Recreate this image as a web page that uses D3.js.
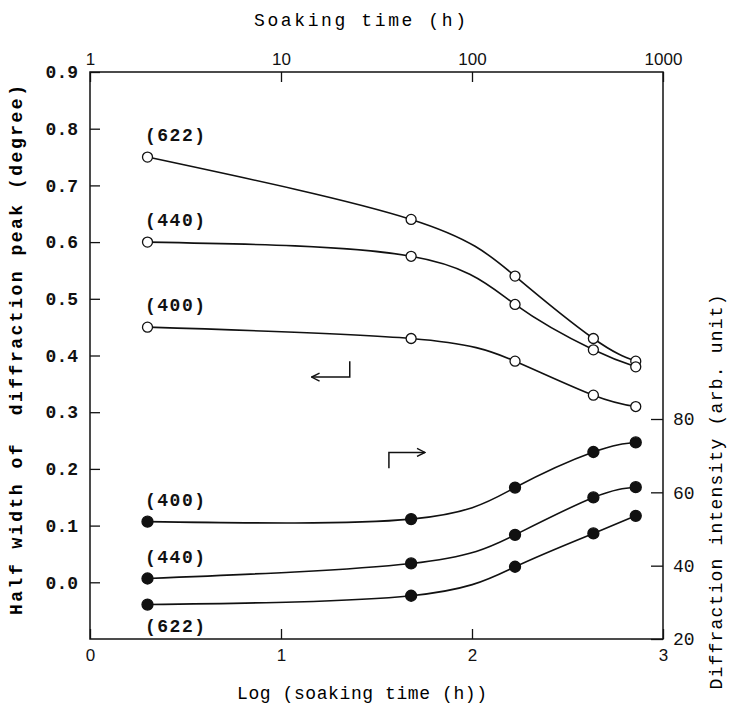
<!DOCTYPE html>
<html>
<head>
<meta charset="utf-8">
<script src="https://cdn.jsdelivr.net/npm/d3@7"></script>
<style>
  body { margin: 0; background: #fff; }
  svg { display: block; }
  .mono { font-family: "Liberation Mono", "DejaVu Sans Mono", monospace; }
  .sans { font-family: "Liberation Sans", "DejaVu Sans", sans-serif; }
</style>
</head>
<body>
<svg id="chart" width="729" height="708"></svg>
<script>
// soaking time (h) of each measurement
const hours = [2, 48, 168, 432, 720];

// half width of diffraction peak (degree), open circles, left axis
const halfWidth = [
    { name: "(622)", values: [0.75, 0.64, 0.54, 0.43, 0.39] },
    { name: "(440)", values: [0.60, 0.575, 0.49, 0.41, 0.38] },
    { name: "(400)", values: [0.45, 0.43, 0.39, 0.33, 0.31] }
];

// diffraction intensity (arb. unit), filled circles, right axis
const intensity = [
    { name: "(400)", values: [52.0, 52.7, 61.3, 71.0, 73.6] },
    { name: "(440)", values: [36.5, 40.6, 48.4, 58.6, 61.4] },
    { name: "(622)", values: [29.4, 31.8, 39.7, 48.8, 53.6] }
];

const logTicks = [0, 1, 2, 3];
const timeTicks = [1, 10, 100, 1000];
const leftTicks = [0.0, 0.1, 0.2, 0.3, 0.4, 0.5, 0.6, 0.7, 0.8, 0.9];
const rightTicks = [20, 40, 60, 80];

const plotLeft = 90, plotRight = 663, plotTop = 72, plotBottom = 639;

const svg = d3.select("#chart");

const x = d3.scaleLinear().domain([0, 3]).range([plotLeft, plotRight]);
const xTime = d3.scaleLog().domain([1, 1000]).range([plotLeft, plotRight]);
const yL = d3.scaleLinear().domain([-0.1, 0.9]).range([plotBottom, plotTop]);
const yR = d3.scaleLinear().domain([20, 80]).range([plotBottom, 419]);

//frame
svg.append("rect")
    .attr("x", plotLeft)
    .attr("y", plotTop)
    .attr("width", plotRight - plotLeft)
    .attr("height", plotBottom - plotTop)
    .attr("fill", "none")
    .attr("stroke", "#111")
    .attr("stroke-width", 1.5);

//axes
let styleAxis = function(g, cls, size){
    g.select(".domain").remove();
    g.selectAll("line").attr("stroke", "#111").attr("stroke-width", 1.3);
    g.selectAll("text")
        .attr("class", cls)
        .attr("font-size", size)
        .attr("fill", "#111");
};

svg.append("g")
    .attr("transform", `translate(${plotLeft},0)`)
    .call(d3.axisLeft(yL).tickValues(leftTicks).tickFormat(d3.format(".1f"))
        .tickSizeInner(-10).tickSizeOuter(0).tickPadding(12))
    .call(g => styleAxis(g, "mono", 18))
    .selectAll("text").attr("font-weight", "bold");

svg.append("g")
    .attr("transform", `translate(0,${plotBottom})`)
    .call(d3.axisBottom(x).tickValues(logTicks).tickFormat(d3.format("d"))
        .tickSizeInner(-10).tickSizeOuter(0).tickPadding(10))
    .call(g => styleAxis(g, "sans", 17));

svg.append("g")
    .attr("transform", `translate(0,${plotTop})`)
    .call(d3.axisTop(xTime).tickValues(timeTicks).tickFormat(d3.format("d"))
        .tickSizeInner(-10).tickSizeOuter(0).tickPadding(7))
    .call(g => styleAxis(g, "sans", 17));

svg.append("g")
    .attr("transform", `translate(${plotRight},0)`)
    .call(d3.axisRight(yR).tickValues(rightTicks).tickFormat(d3.format("d"))
        .tickSizeInner(-12).tickSizeOuter(0).tickPadding(10))
    .call(g => styleAxis(g, "mono", 18));

//axis titles
svg.append("text")
    .attr("class", "mono")
    .attr("transform", `translate(22,350) rotate(-90)`)
    .attr("text-anchor", "middle")
    .attr("font-size", 18)
    .attr("font-weight", "bold")
    .attr("textLength", 530)
    .attr("lengthAdjust", "spacing")
    .attr("xml:space", "preserve")
    .text("Half width of  diffraction peak (degree)");

svg.append("text")
    .attr("class", "mono")
    .attr("transform", `translate(722,492) rotate(-90)`)
    .attr("text-anchor", "middle")
    .attr("font-size", 18)
    .attr("textLength", 395)
    .attr("lengthAdjust", "spacing")
    .text("Diffraction intensity (arb. unit)");

svg.append("text")
    .attr("class", "mono")
    .attr("x", 360)
    .attr("y", 26)
    .attr("text-anchor", "middle")
    .attr("font-size", 18)
    .attr("textLength", 212)
    .attr("lengthAdjust", "spacing")
    .text("Soaking time (h)");

svg.append("text")
    .attr("class", "mono")
    .attr("x", 362)
    .attr("y", 699)
    .attr("text-anchor", "middle")
    .attr("font-size", 18)
    .attr("textLength", 250)
    .attr("lengthAdjust", "spacing")
    .text("Log (soaking time (h))");

//curves
let drawSeries = function(series, yScale, filled, labelBelow){
    let line = d3.line()
        .x((d, i) => x(Math.log10(hours[i])))
        .y(d => yScale(d))
        .curve(d3.curveNatural);

    let g = svg.selectAll(null)
        .data(series)
        .enter().append("g");

    g.append("path")
        .attr("d", d => line(d.values))
        .attr("fill", "none")
        .attr("stroke", "#111")
        .attr("stroke-width", 1.6);

    g.selectAll("circle")
        .data(d => d.values)
        .enter().append("circle")
        .attr("cx", (d, i) => x(Math.log10(hours[i])))
        .attr("cy", d => yScale(d))
        .attr("r", filled ? 5.5 : 5)
        .attr("fill", filled ? "#111" : "#fff")
        .attr("stroke", "#111")
        .attr("stroke-width", 1.3);

    g.append("text")
        .attr("class", "mono")
        .attr("x", 145)
        .attr("y", d => yScale(d.values[0]) + (labelBelow(d) ? 27 : -16))
        .attr("font-size", 18)
        .attr("font-weight", "bold")
        .attr("letter-spacing", 1.5)
        .attr("fill", "#111")
        .text(d => d.name);
};

drawSeries(halfWidth, yL, false, d => false);
drawSeries(intensity, yR, true, d => d.name === "(622)");

//arrows pointing to the axis each family belongs to
svg.append("defs").append("marker")
    .attr("id", "head")
    .attr("viewBox", "0 0 10 10")
    .attr("refX", 9)
    .attr("refY", 5)
    .attr("markerWidth", 10)
    .attr("markerHeight", 10)
    .attr("markerUnits", "userSpaceOnUse")
    .attr("orient", "auto")
    .append("path")
    .attr("d", "M1,1 L9,5 L1,9")
    .attr("fill", "none")
    .attr("stroke", "#111")
    .attr("stroke-width", 1.4);

const arrowLeft = [[1.36, 0.39], [1.36, 0.362], [1.16, 0.362]];
const arrowRight = [[1.565, 0.201], [1.565, 0.229], [1.754, 0.229]];

[arrowLeft, arrowRight].forEach(pts => {
    svg.append("path")
        .attr("d", d3.line().x(d => x(d[0])).y(d => yL(d[1]))(pts))
        .attr("fill", "none")
        .attr("stroke", "#111")
        .attr("stroke-width", 1.5)
        .attr("marker-end", "url(#head)");
});
</script>
</body>
</html>
